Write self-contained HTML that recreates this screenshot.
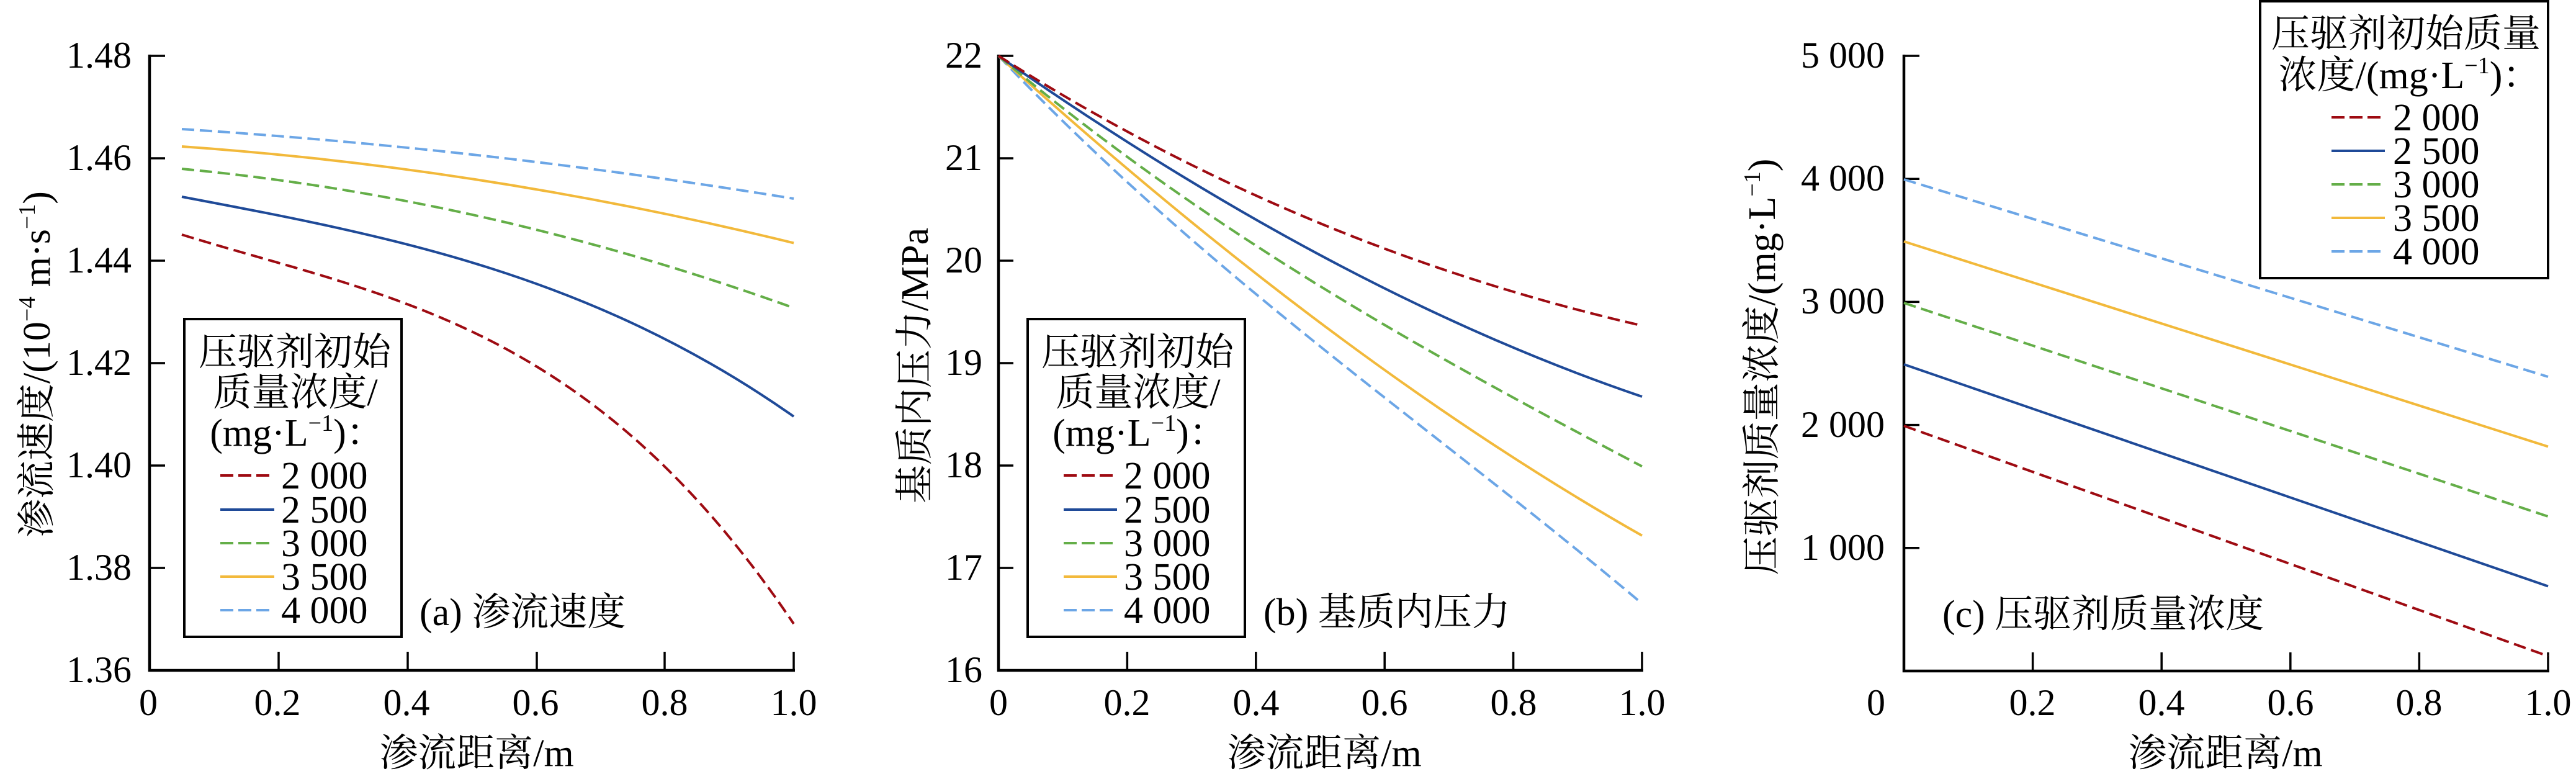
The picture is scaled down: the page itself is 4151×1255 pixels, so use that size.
<!DOCTYPE html>
<html><head><meta charset="utf-8">
<style>
html,body{margin:0;padding:0;background:#fff;}
svg{display:block;}
text{font-family:"Liberation Serif","Noto Serif CJK SC",serif;fill:#000;}
.tk{font-size:60px;}
.lg{font-size:62px;}
</style></head>
<body>
<svg xmlns="http://www.w3.org/2000/svg" width="4151" height="1255" viewBox="0 0 4151 1255">
<rect width="4151" height="1255" fill="#fff"/>

<!-- ================= PANEL A ================= -->
<g stroke="#000" stroke-width="4.5" fill="none">
  <path d="M241,88 V1080 H1281"/>
</g>
<g stroke="#000" stroke-width="3.5">
  <line x1="241" y1="90" x2="266" y2="90"/>
  <line x1="241" y1="255" x2="266" y2="255"/>
  <line x1="241" y1="420" x2="266" y2="420"/>
  <line x1="241" y1="585" x2="266" y2="585"/>
  <line x1="241" y1="750" x2="266" y2="750"/>
  <line x1="241" y1="915" x2="266" y2="915"/>
  <line x1="449" y1="1080" x2="449" y2="1050"/>
  <line x1="657" y1="1080" x2="657" y2="1050"/>
  <line x1="865" y1="1080" x2="865" y2="1050"/>
  <line x1="1071" y1="1080" x2="1071" y2="1050"/>
  <line x1="1279" y1="1080" x2="1279" y2="1050"/>
</g>
<g class="tk" text-anchor="end">
  <text x="212" y="109">1.48</text>
  <text x="212" y="274">1.46</text>
  <text x="212" y="439">1.44</text>
  <text x="212" y="604">1.42</text>
  <text x="212" y="769">1.40</text>
  <text x="212" y="934">1.38</text>
  <text x="212" y="1099">1.36</text>
</g>
<g class="tk" text-anchor="middle">
  <text x="239" y="1152">0</text>
  <text x="447" y="1152">0.2</text>
  <text x="655" y="1152">0.4</text>
  <text x="863" y="1152">0.6</text>
  <text x="1071" y="1152">0.8</text>
  <text x="1279" y="1152">1.0</text>
</g>
<text class="lg" x="768" y="1234" text-anchor="middle">渗流距离/m</text>
<text class="lg" transform="translate(80,587) rotate(-90)" text-anchor="middle">渗流速度/(10<tspan font-size="38" dy="-24">−4</tspan><tspan dy="24"> m·s</tspan><tspan font-size="38" dy="-24">−1</tspan><tspan dy="24">)</tspan></text>

<g fill="none" stroke-width="4">
  <path d="M293,208 Q786,239.7 1279,320" stroke="#6CA6E6" stroke-dasharray="20 9"/>
  <path d="M293,236 Q786,270.6 1279,391.5" stroke="#F2B93B"/>
  <path d="M293,272 Q786,319 1279,496" stroke="#64AE48" stroke-dasharray="20 9"/>
  <path d="M293,317 C621.7,379.3 950.3,440.1 1279,671" stroke="#1F4A98"/>
  <path d="M293,378 C621.7,479.7 950.3,517.2 1279,1005" stroke="#9E0B12" stroke-dasharray="20 9"/>
</g>

<!-- legend a -->
<rect x="297" y="514" width="350" height="512" fill="#fff" stroke="#000" stroke-width="4"/>
<g class="lg" text-anchor="middle">
  <text x="475" y="588">压驱剂初始</text>
  <text x="476" y="653">质量浓度/</text>
  <text x="479" y="718">(mg·L<tspan font-size="38" dy="-24">−1</tspan><tspan dy="24">)：</tspan></text>
</g>
<g stroke-width="4">
  <line x1="355" y1="766" x2="435" y2="766" stroke="#9E0B12" stroke-dasharray="21 8"/>
  <line x1="355" y1="821" x2="442" y2="821" stroke="#1F4A98"/>
  <line x1="355" y1="875" x2="435" y2="875" stroke="#64AE48" stroke-dasharray="21 8"/>
  <line x1="355" y1="929" x2="442" y2="929" stroke="#F2B93B"/>
  <line x1="355" y1="983" x2="435" y2="983" stroke="#6CA6E6" stroke-dasharray="21 8"/>
</g>
<g class="lg">
  <text x="453" y="787">2 000</text>
  <text x="453" y="842">2 500</text>
  <text x="453" y="896">3 000</text>
  <text x="453" y="950">3 500</text>
  <text x="453" y="1004">4 000</text>
</g>
<text class="lg" x="676" y="1007">(a) 渗流速度</text>

<!-- ================= PANEL B ================= -->
<g stroke="#000" stroke-width="4.5" fill="none">
  <path d="M1609,88 V1080 H2648"/>
</g>
<g stroke="#000" stroke-width="3.5">
  <line x1="1609" y1="90" x2="1633" y2="90"/>
  <line x1="1609" y1="255" x2="1633" y2="255"/>
  <line x1="1609" y1="420" x2="1633" y2="420"/>
  <line x1="1609" y1="585" x2="1633" y2="585"/>
  <line x1="1609" y1="750" x2="1633" y2="750"/>
  <line x1="1609" y1="915" x2="1633" y2="915"/>
  <line x1="1816.4" y1="1080" x2="1816.4" y2="1050"/>
  <line x1="2023.8" y1="1080" x2="2023.8" y2="1050"/>
  <line x1="2231.2" y1="1080" x2="2231.2" y2="1050"/>
  <line x1="2438.6" y1="1080" x2="2438.6" y2="1050"/>
  <line x1="2646" y1="1080" x2="2646" y2="1050"/>
</g>
<g class="tk" text-anchor="end">
  <text x="1583" y="109">22</text>
  <text x="1583" y="274">21</text>
  <text x="1583" y="439">20</text>
  <text x="1583" y="604">19</text>
  <text x="1583" y="769">18</text>
  <text x="1583" y="934">17</text>
  <text x="1583" y="1099">16</text>
</g>
<g class="tk" text-anchor="middle">
  <text x="1609" y="1152">0</text>
  <text x="1816" y="1152">0.2</text>
  <text x="2024" y="1152">0.4</text>
  <text x="2231" y="1152">0.6</text>
  <text x="2439" y="1152">0.8</text>
  <text x="2646" y="1152">1.0</text>
</g>
<text class="lg" x="2134" y="1234" text-anchor="middle">渗流距离/m</text>
<text class="lg" transform="translate(1495,589) rotate(-90)" text-anchor="middle">基质内压力/MPa</text>

<g fill="none" stroke-width="4">
  <path d="M1609,90 C1954.7,453.5 2300.3,681 2646,972.4" stroke="#6CA6E6" stroke-dasharray="20 9"/>
  <path d="M1609,90 C1954.7,403.1 2300.3,666.6 2646,862.9" stroke="#F2B93B"/>
  <path d="M1609,90 C1954.7,380 2300.3,569.5 2646,751.4" stroke="#64AE48" stroke-dasharray="20 9"/>
  <path d="M1609,90 C1954.7,331.6 2300.3,521.6 2646,639" stroke="#1F4A98"/>
  <path d="M1609,90 C1954.7,309.6 2300.3,445.2 2646,524.6" stroke="#9E0B12" stroke-dasharray="20 9"/>
</g>

<!-- legend b -->
<rect x="1656" y="514" width="350" height="512" fill="#fff" stroke="#000" stroke-width="4"/>
<g class="lg" text-anchor="middle">
  <text x="1833" y="588">压驱剂初始</text>
  <text x="1834" y="653">质量浓度/</text>
  <text x="1837" y="718">(mg·L<tspan font-size="38" dy="-24">−1</tspan><tspan dy="24">)：</tspan></text>
</g>
<g stroke-width="4">
  <line x1="1714" y1="766" x2="1794" y2="766" stroke="#9E0B12" stroke-dasharray="21 8"/>
  <line x1="1714" y1="821" x2="1800" y2="821" stroke="#1F4A98"/>
  <line x1="1714" y1="875" x2="1794" y2="875" stroke="#64AE48" stroke-dasharray="21 8"/>
  <line x1="1714" y1="929" x2="1800" y2="929" stroke="#F2B93B"/>
  <line x1="1714" y1="983" x2="1794" y2="983" stroke="#6CA6E6" stroke-dasharray="21 8"/>
</g>
<g class="lg">
  <text x="1811" y="787">2 000</text>
  <text x="1811" y="842">2 500</text>
  <text x="1811" y="896">3 000</text>
  <text x="1811" y="950">3 500</text>
  <text x="1811" y="1004">4 000</text>
</g>
<text class="lg" x="2036" y="1007">(b) 基质内压力</text>

<!-- ================= PANEL C ================= -->
<g stroke="#000" stroke-width="4.5" fill="none">
  <path d="M3068,88 V1081 H4108"/>
</g>
<g stroke="#000" stroke-width="3.5">
  <line x1="3068" y1="90" x2="3093" y2="90"/>
  <line x1="3068" y1="288.2" x2="3093" y2="288.2"/>
  <line x1="3068" y1="486.4" x2="3093" y2="486.4"/>
  <line x1="3068" y1="684.6" x2="3093" y2="684.6"/>
  <line x1="3068" y1="882.8" x2="3093" y2="882.8"/>
  <line x1="3275.6" y1="1081" x2="3275.6" y2="1051"/>
  <line x1="3483.2" y1="1081" x2="3483.2" y2="1051"/>
  <line x1="3690.8" y1="1081" x2="3690.8" y2="1051"/>
  <line x1="3898.4" y1="1081" x2="3898.4" y2="1051"/>
  <line x1="4106" y1="1081" x2="4106" y2="1051"/>
</g>
<g class="tk" text-anchor="end">
  <text x="3037" y="109">5 000</text>
  <text x="3037" y="307">4 000</text>
  <text x="3037" y="505">3 000</text>
  <text x="3037" y="704">2 000</text>
  <text x="3037" y="902">1 000</text>
</g>
<g class="tk" text-anchor="middle">
  <text x="3023" y="1152">0</text>
  <text x="3275" y="1152">0.2</text>
  <text x="3483" y="1152">0.4</text>
  <text x="3691" y="1152">0.6</text>
  <text x="3898" y="1152">0.8</text>
  <text x="4106" y="1152">1.0</text>
</g>
<text class="lg" x="3586" y="1234" text-anchor="middle">渗流距离/m</text>
<text class="lg" transform="translate(2860,591) rotate(-90)" text-anchor="middle">压驱剂质量浓度/(mg·L<tspan font-size="38" dy="-24">−1</tspan><tspan dy="24">)</tspan></text>

<g fill="none" stroke-width="4">
  <path d="M3068,289 L4106,607" stroke="#6CA6E6" stroke-dasharray="20 9"/>
  <path d="M3068,389 L4106,719.5" stroke="#F2B93B"/>
  <path d="M3068,488 L4106,832" stroke="#64AE48" stroke-dasharray="20 9"/>
  <path d="M3068,587 L4106,944.5" stroke="#1F4A98"/>
  <path d="M3068,686 L4106,1057" stroke="#9E0B12" stroke-dasharray="20 9"/>
</g>

<!-- legend c -->
<rect x="3642" y="2" width="464" height="446" fill="#fff" stroke="#000" stroke-width="4"/>
<g class="lg" text-anchor="middle">
  <text x="3877" y="75">压驱剂初始质量</text>
  <text x="3883" y="142">浓度/(mg·L<tspan font-size="38" dy="-24">−1</tspan><tspan dy="24">)：</tspan></text>
</g>
<g stroke-width="4">
  <line x1="3757" y1="189" x2="3837" y2="189" stroke="#9E0B12" stroke-dasharray="21 8"/>
  <line x1="3757" y1="243" x2="3843" y2="243" stroke="#1F4A98"/>
  <line x1="3757" y1="297" x2="3837" y2="297" stroke="#64AE48" stroke-dasharray="21 8"/>
  <line x1="3757" y1="351" x2="3843" y2="351" stroke="#F2B93B"/>
  <line x1="3757" y1="405" x2="3837" y2="405" stroke="#6CA6E6" stroke-dasharray="21 8"/>
</g>
<g class="lg">
  <text x="3856" y="210">2 000</text>
  <text x="3856" y="264">2 500</text>
  <text x="3856" y="318">3 000</text>
  <text x="3856" y="372">3 500</text>
  <text x="3856" y="426">4 000</text>
</g>
<text class="lg" x="3130" y="1010">(c) 压驱剂质量浓度</text>
</svg>
</body></html>
